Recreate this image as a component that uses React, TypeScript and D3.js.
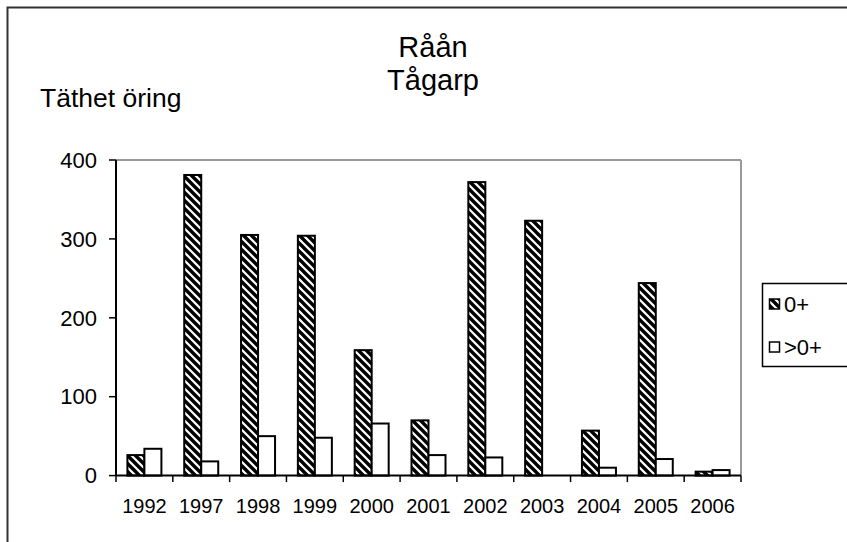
import React from "react";
import * as d3 from "d3";

const years = ["1992", "1997", "1998", "1999", "2000", "2001", "2002", "2003", "2004", "2005", "2006"];
const young = [26, 381, 305, 304, 159, 70, 372, 323, 57, 244, 5];
const older = [34, 18, 50, 48, 66, 26, 23, 0, 10, 21, 7];
const yTicks = [0, 100, 200, 300, 400];
const seriesNames = ["0+", ">0+"];

const FONT = "'Liberation Sans', Arial, sans-serif";

export default function App() {
  const left = 116;
  const right = 741;
  const top = 160;
  const bottom = 475.6;

  const x = d3.scaleBand<string>().domain(years).range([left, right]).padding(0);
  const y = d3.scaleLinear().domain([0, 400]).range([bottom, top]);
  const bw = 17;

  return (
    <svg width={847} height={542} style={{ position: "absolute", left: 0, top: 0 }}>
      <defs>
        <pattern id="hatch" patternUnits="userSpaceOnUse" width={8} height={8}>
          <rect width={8} height={8} fill="#fff" />
          <path d="M-2,-2 L10,10 M-2,6 L2,10 M6,-2 L10,2" stroke="#000" strokeWidth={3.4} />
        </pattern>
      </defs>
      <rect x={0} y={0} width={847} height={542} fill="#fff" />
      {/* outer frame */}
      <rect x={7.5} y={7.5} width={900} height={600} fill="none" stroke="#333" strokeWidth={2} />

      {/* title */}
      <text x={433} y={57} textAnchor="middle" fontFamily={FONT} fontSize={29} fill="#000">Råån</text>
      <text x={433} y={90} textAnchor="middle" fontFamily={FONT} fontSize={29} fill="#000">Tågarp</text>
      <text x={40} y={106.7} fontFamily={FONT} fontSize={26.5} fill="#000">Täthet öring</text>

      {/* plot border top & right */}
      <line x1={left} x2={right} y1={top} y2={top} stroke="#999" strokeWidth={2} />
      <line x1={right} x2={right} y1={top} y2={bottom} stroke="#999" strokeWidth={2} />

      {/* bars */}
      {years.map((yr, i) => {
        const c = (x(yr) as number) + x.bandwidth() / 2;
        return (
          <g key={yr}>
            {young[i] > 0 && (
              <rect x={c - bw} y={y(young[i])} width={bw} height={bottom - y(young[i])}
                fill="url(#hatch)" stroke="#000" strokeWidth={2} />
            )}
            {older[i] > 0 && (
              <rect x={c} y={y(older[i])} width={bw} height={bottom - y(older[i])}
                fill="#fff" stroke="#000" strokeWidth={2} />
            )}
          </g>
        );
      })}

      {/* y axis */}
      <line x1={left} x2={left} y1={top} y2={bottom} stroke="#000" strokeWidth={2} />
      {yTicks.map((t) => (
        <g key={t}>
          <line x1={left - 7} x2={left} y1={y(t)} y2={y(t)} stroke="#000" strokeWidth={1.5} />
          <text x={97} y={y(t)} dy="0.35em" textAnchor="end" fontFamily={FONT} fontSize={22} fill="#000">{t}</text>
        </g>
      ))}

      {/* x axis */}
      <line x1={left} x2={right} y1={bottom} y2={bottom} stroke="#000" strokeWidth={2} />
      {years.map((yr) => (
        <line key={"t" + yr} x1={x(yr) as number} x2={x(yr) as number} y1={bottom} y2={bottom + 6.5} stroke="#000" strokeWidth={1.5} />
      ))}
      <line x1={right} x2={right} y1={bottom} y2={bottom + 6.5} stroke="#000" strokeWidth={1.5} />
      {years.map((yr) => (
        <text key={"l" + yr} x={(x(yr) as number) + x.bandwidth() / 2} y={513} textAnchor="middle"
          fontFamily={FONT} fontSize={20} fill="#000">{yr}</text>
      ))}

      {/* legend */}
      <rect x={762.5} y={283.5} width={200} height={83} fill="#fff" stroke="#000" strokeWidth={1.5} />
      {seriesNames.map((s, i) => {
        const cy = 304 + i * 43;
        return (
          <g key={s}>
            <rect x={769.5} y={cy - 5} width={10} height={10} fill={i === 0 ? "url(#hatch)" : "#fff"} stroke="#000" strokeWidth={1.5} />
            <text x={784} y={cy} dy="0.35em" fontFamily={FONT} fontSize={22} fill="#000">{s}</text>
          </g>
        );
      })}
    </svg>
  );
}
